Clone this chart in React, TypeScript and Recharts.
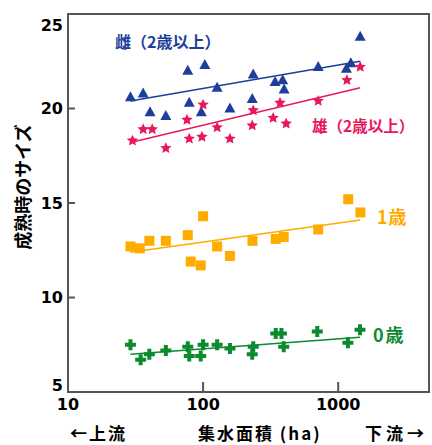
import React from 'react';
import { ScatterChart, Scatter, XAxis, YAxis, ReferenceArea } from 'recharts';

// 集水面積 (ha) と サイズ
const areaTicks = [10, 100, 1000];
const sizeTicks = [5, 10, 15, 20, 25];
const areaDomain = [10, 4700];
const sizeDomain = [5, 25];

const femaleArea = [29, 36, 40.5, 53, 77, 103, 79, 97, 127, 158, 235, 231, 341, 388, 398, 711, 1150, 1240, 1455];
const femaleSize = [20.6, 20.8, 19.8, 19.6, 22.0, 22.3, 20.3, 19.8, 21.1, 20.0, 21.8, 20.5, 21.4, 21.5, 21.0, 22.2, 22.1, 22.4, 23.8];

const maleArea = [30, 36, 42, 53, 76, 100, 79, 98, 127, 158, 231, 235, 330, 412, 371, 711, 1160, 1455];
const maleSize = [18.3, 18.9, 18.9, 17.9, 19.4, 20.2, 18.4, 18.5, 19.0, 18.4, 19.1, 19.9, 19.5, 19.2, 20.3, 20.4, 21.5, 22.2];

const age1Area = [29, 34, 40, 53, 77, 100, 81, 96, 127, 158, 232, 345, 395, 711, 1186, 1460];
const age1Size = [12.7, 12.6, 13.0, 13.0, 13.3, 14.3, 11.9, 11.7, 12.7, 12.2, 13.0, 13.1, 13.2, 13.6, 15.2, 14.5];

const age0Area = [29, 34.5, 40, 53, 77, 79, 100, 96, 127, 158, 235, 231, 345, 380, 395, 700, 1180, 1450];
const age0Size = [7.5, 6.7, 7.0, 7.2, 7.4, 6.9, 7.5, 6.9, 7.5, 7.3, 7.4, 7.0, 8.1, 8.1, 7.4, 8.2, 7.6, 8.3];

const trendArea = [29, 1455];
const femaleTrend = [20.4, 22.5];
const maleTrend = [18.2, 21.1];
const age1Trend = [12.4, 14.1];
const age0Trend = [7.0, 7.9];

const BLUE = '#1d3f9b';
const RED = '#e8185a';
const ORANGE = '#ffab00';
const GREEN = '#0b8a2e';
const AXIS = '#555555';

const toPoints = (xs: number[], ys: number[]) => xs.map((x, i) => ({ area: x, size: ys[i] }));

const numFont = { fontFamily: '"DejaVu Sans", sans-serif', fontWeight: 700, fontSize: 16, fill: '#000' };
const jp = '"Noto Sans CJK JP", sans-serif';
const chartMargin = { top: 14, right: 3, bottom: 0, left: 0 };

// ticks point inward; x/y arrive with the default tickSize (6) + tickMargin (2)
const YTick = (props: any) => {
  const { x, y, payload } = props;
  const v = payload.value;
  const shift = v === 25 ? 11 : v === 5 ? -7 : 0;
  return (
    <g>
      {v !== 5 && v !== 25 && <line x1={x + 8} x2={x + 15} y1={y} y2={y} stroke={AXIS} strokeWidth={2} />}
      <text x={x + 3} y={y + shift} textAnchor="end" dominantBaseline="central" style={numFont}>
        {v}
      </text>
    </g>
  );
};

const XTick = (props: any) => {
  const { x, y, payload } = props;
  const v = payload.value;
  return (
    <g>
      {v !== 10 && <line x1={x} x2={x} y1={y - 8} y2={y - 18} stroke={AXIS} strokeWidth={2} />}
      <text x={x} y={y + 4} textAnchor="middle" dominantBaseline="central" style={numFont}>
        {v}
      </text>
    </g>
  );
};

const noDot = () => <g />;

const Triangle = ({ cx, cy }: any) => (
  <path d={`M${cx},${cy - 6}L${cx + 5.5},${cy + 4}L${cx - 5.5},${cy + 4}Z`} fill={BLUE} />
);

const Star = ({ cx, cy }: any) => {
  let d = '';
  for (let i = 0; i < 10; i++) {
    const r = i % 2 === 0 ? 6 : 2.8;
    const a = (Math.PI / 5) * i - Math.PI / 2;
    d += `${i === 0 ? 'M' : 'L'}${cx + r * Math.cos(a)},${cy + r * Math.sin(a)}`;
  }
  return <path d={d + 'Z'} fill={RED} />;
};

const Square = ({ cx, cy }: any) => <rect x={cx - 5} y={cy - 5} width={10} height={10} fill={ORANGE} />;

const Cross = ({ cx, cy }: any) => (
  <path d={`M${cx - 2},${cy - 5.5}h4v3.5h3.5v4h-3.5v3.5h-4v-3.5h-3.5v-4h3.5Z`} fill={GREEN} />
);

const labelBase: React.CSSProperties = {
  position: 'absolute',
  fontFamily: jp,
  fontWeight: 700,
  lineHeight: 1,
  whiteSpace: 'nowrap',
  pointerEvents: 'none',
};

const layer: React.CSSProperties = { position: 'absolute', left: 0, top: 0 };

const App = () => (
  <div style={{ position: 'absolute', left: 0, top: 0, width: 432, height: 445 }}>
    {/* series */}
    <div style={layer}>
      <ScatterChart width={432} height={445} margin={chartMargin}>
        <XAxis type="number" dataKey="area" scale="log" domain={areaDomain} ticks={areaTicks} height={53} axisLine={false} tickLine={false} tick={false} />
        <YAxis type="number" dataKey="size" domain={sizeDomain} ticks={sizeTicks} width={68} axisLine={false} tickLine={false} tick={false} />
        <Scatter data={toPoints(trendArea, femaleTrend)} line={{ stroke: BLUE, strokeWidth: 1.5 }} shape={noDot} isAnimationActive={false} />
        <Scatter data={toPoints(trendArea, maleTrend)} line={{ stroke: RED, strokeWidth: 1.5 }} shape={noDot} isAnimationActive={false} />
        <Scatter data={toPoints(trendArea, age1Trend)} line={{ stroke: ORANGE, strokeWidth: 1.5 }} shape={noDot} isAnimationActive={false} />
        <Scatter data={toPoints(trendArea, age0Trend)} line={{ stroke: GREEN, strokeWidth: 1.5 }} shape={noDot} isAnimationActive={false} />
        <Scatter data={toPoints(femaleArea, femaleSize)} shape={Triangle} fill={BLUE} isAnimationActive={false} />
        <Scatter data={toPoints(maleArea, maleSize)} shape={Star} fill={RED} isAnimationActive={false} />
        <Scatter data={toPoints(age1Area, age1Size)} shape={Square} fill={ORANGE} isAnimationActive={false} />
        <Scatter data={toPoints(age0Area, age0Size)} shape={Cross} fill={GREEN} isAnimationActive={false} />
      </ScatterChart>
    </div>
    {/* axes and frame, same scales */}
    <div style={{ ...layer, pointerEvents: 'none' }}>
      <ScatterChart width={432} height={445} margin={chartMargin}>
        <XAxis
          type="number"
          dataKey="area"
          scale="log"
          domain={areaDomain}
          ticks={areaTicks}
          height={53}
          tickLine={false}
          tick={XTick}
          stroke={AXIS}
          strokeWidth={2}
        />
        <YAxis
          type="number"
          dataKey="size"
          domain={sizeDomain}
          ticks={sizeTicks}
          width={68}
          tickLine={false}
          tick={YTick}
          stroke={AXIS}
          strokeWidth={2}
        />
        <ReferenceArea x1={10} x2={4700} y1={5} y2={25} ifOverflow="visible" fill="none" stroke={AXIS} strokeWidth={2} />
        <Scatter data={toPoints(trendArea, femaleTrend)} shape={noDot} isAnimationActive={false} />
      </ScatterChart>
    </div>
    <div style={{ ...labelBase, left: 115, top: 33, fontSize: 16, color: BLUE }}>雌（2歳以上）</div>
    <div style={{ ...labelBase, left: 312, top: 118, fontSize: 15.5, color: RED }}>雄（2歳以上）</div>
    <div style={{ ...labelBase, left: 377, top: 207, fontSize: 18, letterSpacing: 1, color: ORANGE }}>1歳</div>
    <div style={{ ...labelBase, left: 373, top: 325, fontSize: 18, letterSpacing: 2, color: GREEN }}>0歳</div>
    <div style={{ ...labelBase, left: 70, top: 424, fontSize: 17, letterSpacing: 2, color: '#000' }}>←上流</div>
    <div style={{ ...labelBase, left: 198, top: 424, fontSize: 17, letterSpacing: 2, color: '#000' }}>集水面積 (ha)</div>
    <div style={{ ...labelBase, left: 365, top: 424, fontSize: 17, letterSpacing: 4, color: '#000' }}>下流→</div>
    <div
      style={{
        ...labelBase,
        left: 22 - 70,
        top: 187 - 9,
        width: 140,
        height: 18,
        fontSize: 18,
        lineHeight: '18px',
        textAlign: 'center',
        color: '#000',
        transform: 'rotate(-90deg)',
      }}
    >
      成熟時のサイズ
    </div>
  </div>
);

export default App;
